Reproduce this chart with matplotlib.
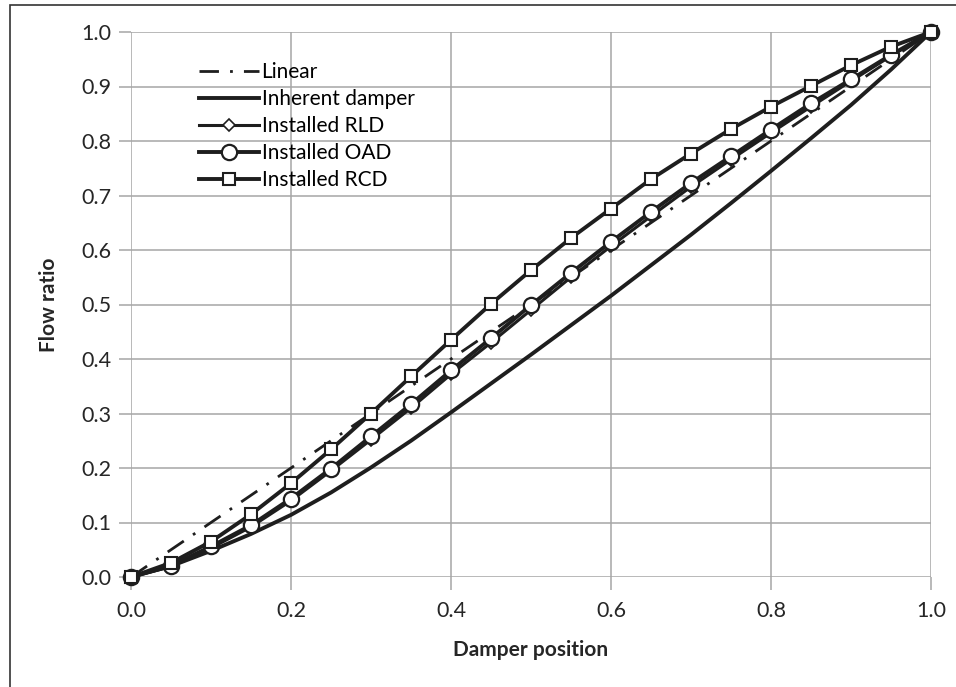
import matplotlib
matplotlib.use("Agg")
import matplotlib.pyplot as plt
from matplotlib.patches import Rectangle

plt.rcParams['font.family'] = ['Lato', 'DejaVu Sans']

# damper position (x) and flow ratios
pos = [0.0, 0.05, 0.1, 0.15, 0.2, 0.25, 0.3, 0.35, 0.4, 0.45, 0.5,
       0.55, 0.6, 0.65, 0.7, 0.75, 0.8, 0.85, 0.9, 0.95, 1.0]
linear_x = [0.0, 1.0]
linear_y = [0.0, 1.0]
inherent = [0.0, 0.02, 0.048, 0.079, 0.114, 0.155, 0.201, 0.25, 0.302, 0.355, 0.408,
            0.462, 0.516, 0.572, 0.628, 0.686, 0.745, 0.805, 0.866, 0.931, 1.0]
rld = [0.0, 0.019, 0.053, 0.092, 0.14, 0.195, 0.252, 0.31, 0.372, 0.43, 0.49,
       0.55, 0.607, 0.662, 0.716, 0.766, 0.815, 0.863, 0.91, 0.956, 1.0]
oad = [0.0, 0.021, 0.056, 0.095, 0.144, 0.199, 0.258, 0.317, 0.379, 0.438, 0.499,
       0.558, 0.615, 0.67, 0.723, 0.772, 0.821, 0.869, 0.913, 0.958, 1.0]
rcd = [0.0, 0.026, 0.065, 0.115, 0.172, 0.234, 0.30, 0.368, 0.435, 0.501, 0.563,
       0.622, 0.676, 0.73, 0.777, 0.822, 0.863, 0.901, 0.939, 0.973, 1.0]

ink = '#1e1e1e'
grid_c = '#a6a6a6'
txt = '#262626'

fig = plt.figure(figsize=(9.56, 6.87), dpi=100)
ax = fig.add_axes([131 / 956, 1 - 577 / 687, 800 / 956, 545 / 687])

ax.plot(linear_x, linear_y, color=ink, lw=2, ls=(0, (7, 4, 1, 4)), label='Linear',
        zorder=3, clip_on=False)
ax.plot(pos, inherent, color=ink, lw=2.8, label='Inherent damper', zorder=3, clip_on=False)
ax.plot(pos, rld, color=ink, lw=2.2, marker='D', ms=6, mfc='white', mec=ink, mew=1.2,
        label='Installed RLD', zorder=4, clip_on=False)
ax.plot(pos, oad, color=ink, lw=2.8, marker='o', ms=11, mfc='white', mec=ink, mew=1.6,
        label='Installed OAD', zorder=5, clip_on=False)
ax.plot(pos, rcd, color=ink, lw=2.8, marker='s', ms=8.5, mfc='white', mec=ink, mew=1.5,
        label='Installed RCD', zorder=6, clip_on=False)

ax.set_xlim(0, 1)
ax.set_ylim(0, 1)
ax.set_xticks([0.0, 0.2, 0.4, 0.6, 0.8, 1.0])
ax.set_yticks([i / 10 for i in range(11)])
ax.xaxis.set_major_formatter(matplotlib.ticker.FormatStrFormatter('%.1f'))
ax.yaxis.set_major_formatter(matplotlib.ticker.FormatStrFormatter('%.1f'))
ax.grid(True, color=grid_c, lw=1.1)
ax.set_axisbelow(True)
for s in ax.spines.values():
    s.set_visible(False)
ax.tick_params(axis='both', length=9, width=1.1, color=grid_c, labelsize=15.5,
               labelcolor=txt, pad=5)
ax.tick_params(axis='x', pad=8)

ax.set_xlabel('Damper position', fontsize=15, fontweight='bold', color=txt, labelpad=14)
ax.set_ylabel('Flow ratio', fontsize=15, fontweight='bold', color=txt, labelpad=16)

ax.legend(loc='upper left', bbox_to_anchor=(68 / 800, 1 - 30 / 545), frameon=False,
          fontsize=15, handlelength=2.9, handletextpad=0.1, labelspacing=0.34,
          borderpad=0, borderaxespad=0)

# outer chart border (left and top edges visible)
fig.patches.append(Rectangle((10 / 956, -0.1), 1.2, 1 - 5 / 687 + 0.1, transform=fig.transFigure,
                             fill=False, ec='#333333', lw=1.2))

fig.savefig('out.png', dpi=100)
